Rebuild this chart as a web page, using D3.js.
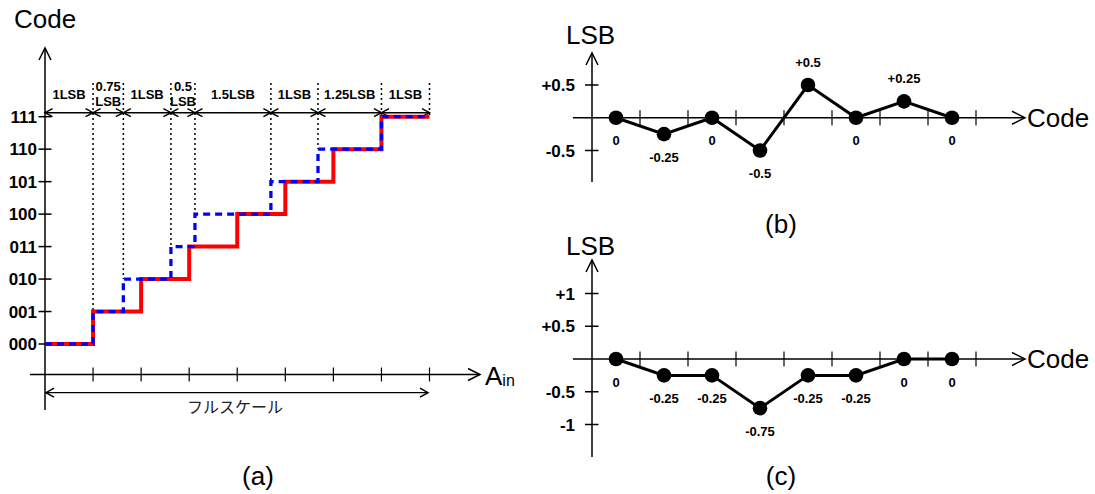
<!DOCTYPE html>
<html>
<head>
<meta charset="utf-8">
<script src="https://cdn.jsdelivr.net/npm/d3@7"></script>
<style>
  body { margin: 0; background: #fff; }
  svg { display: block; font-family: "Liberation Sans", Arial, sans-serif; }
</style>
</head>
<body>
<div id="chart"></div>
<script>
// (a) transfer curve
const codeLabels = ["000", "001", "010", "011", "100", "101", "110", "111"];
const idealEdges = [1, 2, 3, 4, 5, 6, 7, 8];            // ideal code edges, LSB
const actualEdges = [1, 1.63, 2.62, 3.12, 4.7, 5.68, 7, 8];
const widthLabels = [["1LSB"], ["0.75", "LSB"], ["1LSB"], ["0.5", "LSB"], ["1.5LSB"], ["1LSB"], ["1.25LSB"], ["1LSB"]];
const fullScaleLabel = "フルスケール";

// (b) DNL, (c) INL
const dnlValues = [0, -0.25, 0, -0.5, 0.5, 0, 0.25, 0];
const inlValues = [0, -0.25, -0.25, -0.75, -0.25, -0.25, 0, 0];
const dnlTicks = [0.5, -0.5];
const inlTicks = [1, 0.5, -0.5, -1];

const svg = d3.select("#chart").append("svg")
    .attr("width", 1095)
    .attr("height", 494);

function chevron(g, tipX, tipY, dir, len, half) {
    // dir: "right", "left", "up"
    let p;
    if (dir === "right") p = [[tipX - len, tipY - half], [tipX, tipY], [tipX - len, tipY + half]];
    else if (dir === "left") p = [[tipX + len, tipY - half], [tipX, tipY], [tipX + len, tipY + half]];
    else p = [[tipX - half, tipY + len], [tipX, tipY], [tipX + half, tipY + len]];
    g.append("path")
        .attr("d", d3.line()(p))
        .attr("fill", "none")
        .attr("stroke", "#000")
        .attr("stroke-width", 1.5);
}

function fmt(v) {
    if (v > 0) return "+" + v;
    return String(v);
}

drawTransfer();
drawError(dnlValues, dnlTicks, {top: 53, bottom: 182, y0: 85, y1: 150.5, dom: [0.5, -0.5], caption: "(b)", capY: 233, lsbY: 44});
drawError(inlValues, inlTicks, {top: 260, bottom: 457, y0: 293.5, y1: 424.5, dom: [1, -1], caption: "(c)", capY: 485, lsbY: 255});

function drawTransfer() {
    const g = svg.append("g");
    const x = d3.scaleLinear().domain([0, 8]).range([45, 429.5]);
    const y = d3.scaleLinear().domain([0, 7]).range([344, 116.7]);
    const axisY = 374.5;

    // axes
    g.append("line").attr("x1", x(0)).attr("x2", x(0)).attr("y1", 410).attr("y2", 48)
        .attr("stroke", "#000").attr("stroke-width", 1.5);
    chevron(g, x(0), 48, "up", 12, 6);
    g.append("line").attr("x1", 30).attr("x2", 480).attr("y1", axisY).attr("y2", axisY)
        .attr("stroke", "#000").attr("stroke-width", 1.5);
    chevron(g, 480, axisY, "right", 12, 6);

    g.selectAll(".xt").data(idealEdges).enter().append("line")
        .attr("x1", d => x(d)).attr("x2", d => x(d))
        .attr("y1", axisY - 7).attr("y2", axisY + 7)
        .attr("stroke", "#000").attr("stroke-width", 1.2);

    g.selectAll(".yt").data(codeLabels).enter().append("line")
        .attr("x1", x(0) - 6.5).attr("x2", x(0) + 6.5)
        .attr("y1", (d, i) => y(i)).attr("y2", (d, i) => y(i))
        .attr("stroke", "#000").attr("stroke-width", 1.5);
    g.selectAll(".yl").data(codeLabels).enter().append("text")
        .attr("x", 37).attr("y", (d, i) => y(i)).attr("dy", "0.36em")
        .attr("text-anchor", "end").attr("font-weight", "bold").attr("font-size", 17)
        .text(d => d);

    g.append("text").attr("x", 14).attr("y", 28).attr("font-size", 26).text("Code");
    const ain = g.append("text").attr("x", 485).attr("y", 385).attr("font-size", 26);
    ain.append("tspan").text("A");
    ain.append("tspan").attr("font-size", 16).attr("dy", 1).text("in");

    // dotted edge markers
    g.selectAll(".dot").data(actualEdges).enter().append("line")
        .attr("x1", d => x(d)).attr("x2", d => x(d))
        .attr("y1", 83).attr("y2", (d, i) => y(Math.min(i + 1, 7)))
        .attr("stroke", "#000").attr("stroke-width", 1.5)
        .attr("stroke-dasharray", "2,3");

    // dimension line with arrows
    const dimY = y(7) - 4;
    g.append("line").attr("x1", x(0)).attr("x2", x(8)).attr("y1", dimY).attr("y2", dimY)
        .attr("stroke", "#000").attr("stroke-width", 1.5);
    const starts = [0].concat(actualEdges.slice(0, -1));
    starts.forEach((s, i) => {
        chevron(g, x(s), dimY, "left", 7.5, 4);
        chevron(g, x(actualEdges[i]), dimY, "right", 7.5, 4);
        const cx = (x(s) + x(actualEdges[i])) / 2;
        const lines = widthLabels[i];
        lines.forEach((t, j) => {
            g.append("text")
                .attr("x", cx)
                .attr("y", lines.length === 1 ? 99 : 91 + j * 15)
                .attr("text-anchor", "middle").attr("font-weight", "bold").attr("font-size", 13)
                .text(t);
        });
    });

    // step curves
    const ideal = [[0, 0]].concat(idealEdges.map((e, i) => [e, Math.min(i + 1, 7)]));
    const actual = [[0, 0]].concat(actualEdges.map((e, i) => [e, Math.min(i + 1, 7)]));
    const step = d3.line().x(d => x(d[0])).y(d => y(d[1])).curve(d3.curveStepAfter);
    g.append("path").attr("d", step(ideal))
        .attr("fill", "none").attr("stroke", "#ff0000").attr("stroke-width", 4);
    g.append("path").attr("d", step(actual))
        .attr("fill", "none").attr("stroke", "#0000ff").attr("stroke-width", 3.3)
        .attr("stroke-dasharray", "7,5");

    // full scale
    const fsY = 392.7;
    g.append("line").attr("x1", x(0)).attr("x2", x(8) - 1.5).attr("y1", fsY).attr("y2", fsY)
        .attr("stroke", "#000").attr("stroke-width", 1.2);
    chevron(g, x(0) + 1, fsY, "left", 8, 4.5);
    chevron(g, x(8) - 1.5, fsY, "right", 8, 4.5);
    g.append("text").attr("x", 235).attr("y", 413)
        .attr("text-anchor", "middle").attr("font-size", 16).attr("fill", "#222")
        .attr("font-family", "'Noto Sans CJK JP', sans-serif")
        .text(fullScaleLabel);

    g.append("text").attr("x", 258).attr("y", 485)
        .attr("text-anchor", "middle").attr("font-size", 26).text("(a)");
}

function drawError(values, ticks, o) {
    const g = svg.append("g");
    const x = d3.scaleLinear().domain([0, 8]).range([592, 976]);
    const y = d3.scaleLinear().domain(o.dom).range([o.y0, o.y1]);
    const axisY = y(0);
    const ax = x(0);

    g.append("line").attr("x1", ax).attr("x2", ax).attr("y1", o.bottom).attr("y2", o.top)
        .attr("stroke", "#000").attr("stroke-width", 1.5);
    chevron(g, ax, o.top, "up", 12, 6);
    g.append("line").attr("x1", 573).attr("x2", 1025).attr("y1", axisY).attr("y2", axisY)
        .attr("stroke", "#000").attr("stroke-width", 1.5);
    chevron(g, 1025, axisY, "right", 13, 6.5);

    g.selectAll(".xt").data(d3.range(1, 9)).enter().append("line")
        .attr("x1", d => x(d)).attr("x2", d => x(d))
        .attr("y1", axisY - 7.5).attr("y2", axisY + 7.5)
        .attr("stroke", "#000").attr("stroke-width", 1.2);

    g.selectAll(".yt").data(ticks).enter().append("line")
        .attr("x1", ax - 7).attr("x2", ax + 6.5)
        .attr("y1", d => y(d)).attr("y2", d => y(d))
        .attr("stroke", "#000").attr("stroke-width", 1.5);
    g.selectAll(".yl").data(ticks).enter().append("text")
        .attr("x", 575).attr("y", d => y(d)).attr("dy", "0.36em")
        .attr("text-anchor", "end").attr("font-weight", "bold").attr("font-size", 17)
        .text(d => fmt(d));

    g.append("text").attr("x", 566).attr("y", o.lsbY).attr("font-size", 26).text("LSB");
    g.append("text").attr("x", 1027).attr("y", axisY + 9).attr("font-size", 26).text("Code");

    const pts = values.map((v, i) => [i + 0.5, v]);
    g.append("path")
        .attr("d", d3.line().x(d => x(d[0])).y(d => y(d[1]))(pts))
        .attr("fill", "none").attr("stroke", "#000").attr("stroke-width", 3);
    g.selectAll(".pt").data(pts).enter().append("circle")
        .attr("cx", d => x(d[0])).attr("cy", d => y(d[1])).attr("r", 7.3)
        .attr("fill", "#000");
    g.selectAll(".vl").data(pts).enter().append("text")
        .attr("x", d => x(d[0]))
        .attr("y", d => y(d[1]) + (d[1] > 0 ? -23 : 23))
        .attr("dy", "0.36em")
        .attr("text-anchor", "middle").attr("font-weight", "bold").attr("font-size", 13)
        .text(d => fmt(d[1]));

    g.append("text").attr("x", 781).attr("y", o.capY)
        .attr("text-anchor", "middle").attr("font-size", 26).text(o.caption);
}
</script>
</body>
</html>
